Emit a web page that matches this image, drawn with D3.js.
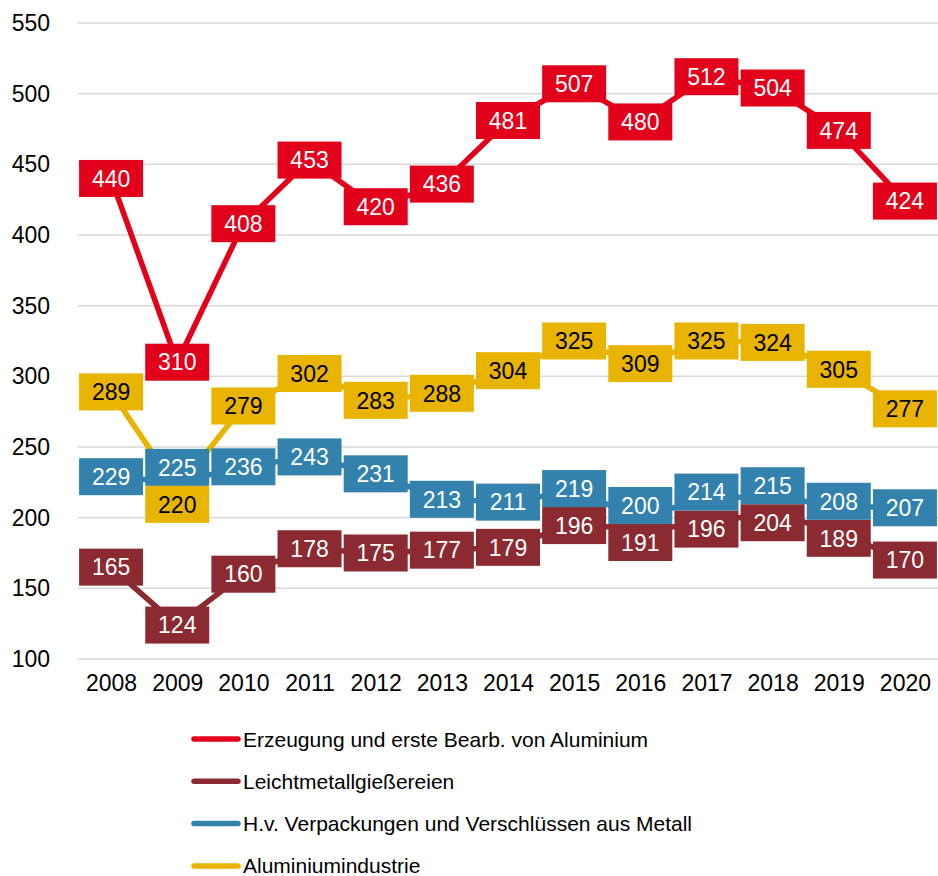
<!DOCTYPE html>
<html>
<head>
<meta charset="utf-8">
<script src="https://cdn.jsdelivr.net/npm/d3@7"></script>
<style>
  body { margin: 0; background: #ffffff; }
  svg { display: block; font-family: "Liberation Sans", Arial, sans-serif; }
  .grid line { stroke: #d9d9d9; stroke-width: 1.5px; }
  .axis text { font-size: 23px; fill: #000000; }
  .legend text { font-size: 21px; fill: #000000; }
</style>
</head>
<body>
<div id="chart"></div>
<script>
const years = [2008, 2009, 2010, 2011, 2012, 2013, 2014, 2015, 2016, 2017, 2018, 2019, 2020];
const erzeugung = [440, 310, 408, 453, 420, 436, 481, 507, 480, 512, 504, 474, 424];
const leichtmetall = [165, 124, 160, 178, 175, 177, 179, 196, 191, 196, 204, 189, 170];
const verpackungen = [229, 225, 236, 243, 231, 213, 211, 219, 200, 214, 215, 208, 207];
const aluminium = [289, 220, 279, 302, 283, 288, 304, 325, 309, 325, 324, 305, 277];
const yTicks = [100, 150, 200, 250, 300, 350, 400, 450, 500, 550];

const series = [
  { name: 'Erzeugung und erste Bearb. von Aluminium', values: erzeugung, color: '#e2001a', text: '#ffffff' },
  { name: 'Leichtmetallgießereien', values: leichtmetall, color: '#8b2a31', text: '#ffffff' },
  { name: 'H.v. Verpackungen und Verschlüssen aus Metall', values: verpackungen, color: '#3282ad', text: '#ffffff' },
  { name: 'Aluminiumindustrie', values: aluminium, color: '#e8b400', text: '#000000' }
];

const width = 938, height = 876;
const margin = { top: 23, right: 0, bottom: 217, left: 78 };
const BOX_W = 64, BOX_H = 37;

const svg = d3.select('#chart').append('svg')
  .attr('width', width)
  .attr('height', height);

const x = d3.scalePoint()
  .domain(years)
  .range([margin.left, width - margin.right])
  .padding(0.5);

const y = d3.scaleLinear()
  .domain([100, 550])
  .range([height - margin.bottom, margin.top]);

// gridlines
svg.append('g')
  .attr('class', 'grid')
  .selectAll('line')
  .data(yTicks)
  .join('line')
  .attr('x1', margin.left)
  .attr('x2', width - margin.right)
  .attr('y1', d => y(d))
  .attr('y2', d => y(d));

// y axis labels
const yAxis = d3.axisLeft(y).tickValues(yTicks).tickSize(0).tickPadding(28);
svg.append('g')
  .attr('class', 'axis')
  .attr('transform', `translate(${margin.left},0)`)
  .call(yAxis)
  .call(g => g.select('.domain').remove())
  .call(g => g.selectAll('text').attr('font-size', 23).attr('font-family', null));

// x axis labels
const xAxis = d3.axisBottom(x).tickSize(0).tickPadding(16);
svg.append('g')
  .attr('class', 'axis')
  .attr('transform', `translate(0,${y(100)})`)
  .call(xAxis)
  .call(g => g.select('.domain').remove())
  .call(g => g.selectAll('text').attr('font-size', 23).attr('font-family', null));

// lines
const line = d3.line()
  .x((d, i) => x(years[i]))
  .y(d => y(d));

svg.append('g')
  .selectAll('path')
  .data(series)
  .join('path')
  .attr('fill', 'none')
  .attr('stroke', d => d.color)
  .attr('stroke-width', 5.5)
  .attr('stroke-linejoin', 'round')
  .attr('d', d => line(d.values));

// label positions, nudged apart where they collide
const labels = [];
years.forEach((yr, i) => {
  const group = series.map(s => ({ s, v: s.values[i], cx: x(yr), cy: y(s.values[i]) }));
  group.sort((a, b) => a.cy - b.cy);
  for (let k = 0; k < 4; k++) {
    for (let j = 1; j < group.length; j++) {
      const gap = group[j].cy - group[j - 1].cy;
      if (gap < BOX_H) {
        const push = (BOX_H - gap) / 2;
        group[j - 1].cy -= push;
        group[j].cy += push;
      }
    }
  }
  labels.push(...group);
});
labels.sort((a, b) => series.indexOf(a.s) - series.indexOf(b.s));

const lab = svg.append('g')
  .selectAll('g')
  .data(labels)
  .join('g')
  .attr('transform', d => `translate(${d.cx},${d.cy})`);

lab.append('rect')
  .attr('x', -BOX_W / 2)
  .attr('y', -BOX_H / 2)
  .attr('width', BOX_W)
  .attr('height', BOX_H)
  .attr('fill', d => d.s.color);

lab.append('text')
  .attr('text-anchor', 'middle')
  .attr('dy', '0.36em')
  .attr('font-size', 23)
  .attr('fill', d => d.s.text)
  .text(d => d.v);

// legend
const legend = svg.append('g')
  .attr('class', 'legend')
  .attr('transform', 'translate(192,739)');

const item = legend.selectAll('g')
  .data(series)
  .join('g')
  .attr('transform', (d, i) => `translate(0,${i * 42.3})`);

item.append('line')
  .attr('x1', 2)
  .attr('x2', 46)
  .attr('stroke', d => d.color)
  .attr('stroke-width', 5.5)
  .attr('stroke-linecap', 'round');

item.append('text')
  .attr('x', 51)
  .attr('dy', '0.36em')
  .text(d => d.name);
</script>
</body>
</html>
